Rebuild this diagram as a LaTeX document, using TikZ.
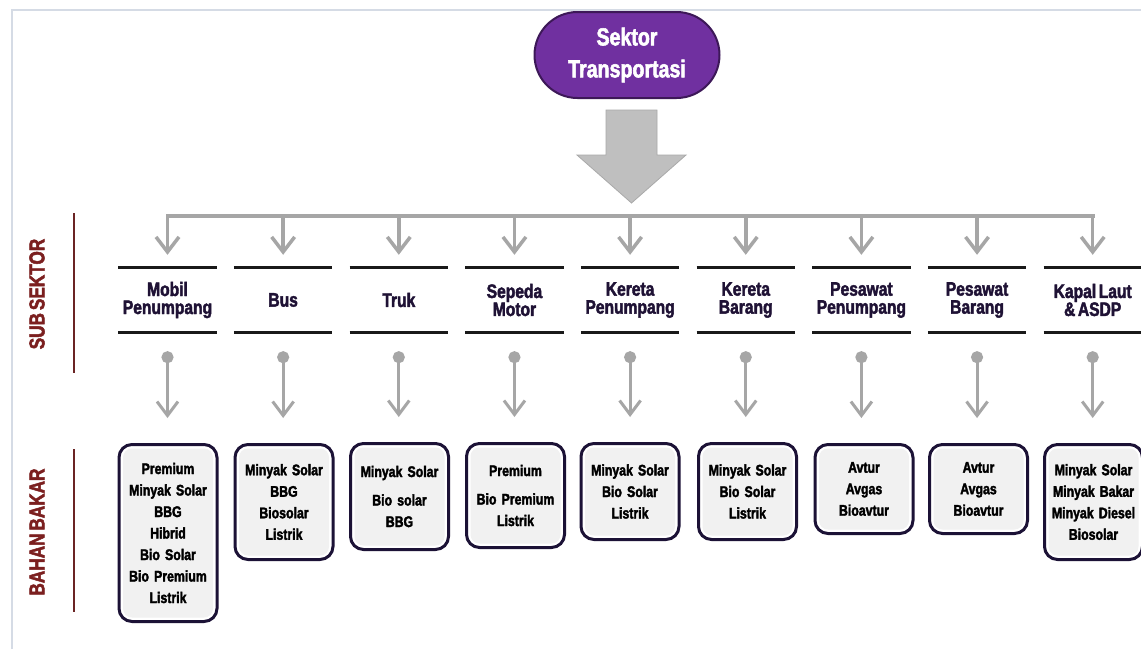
\documentclass[tikz,border=0pt]{standalone}
\usepackage{fontspec}
\setmainfont{Liberation Sans}[FakeStretch=0.8, WordSpace=0.6,
  BoldFeatures={FakeBold=2.2}]
\usetikzlibrary{arrows.meta,calc}

\definecolor{sektorfill}{HTML}{7030A0}
\definecolor{sektorline}{HTML}{3D1858}
\definecolor{arrowgray}{HTML}{A6A6A6}
\definecolor{bigarrowfill}{HTML}{BFBFBF}
\definecolor{bigarrowline}{HTML}{A9A9A9}
\definecolor{boxline}{HTML}{1C1236}
\definecolor{boxfill}{HTML}{F1F1F1}
\definecolor{headtext}{HTML}{1F1235}
\definecolor{sidetext}{HTML}{7B1F1F}
\definecolor{sideline}{HTML}{6B2424}
\definecolor{framecol}{HTML}{D5DBE5}

\tikzset{
  pill/.style={draw=sektorline, line width=2pt, fill=sektorfill,
    rounded corners=43pt, minimum width=185pt, minimum height=86pt,
    text=white, align=center, inner sep=0pt,
    font=\fontsize{24.5}{32}\selectfont\bfseries},
  bigarrow/.style={fill=bigarrowfill, draw=bigarrowline, line width=0.8pt},
  subhead/.style={minimum width=98pt, minimum height=64pt, inner sep=0pt,
    align=center, text=headtext,
    font=\fontsize{19.5}{18}\selectfont\bfseries},
  subrule/.style={draw=black!90, line width=3pt},
  fuelbox/.style={draw=boxline, line width=3pt, rounded corners=13pt,
    fill=white, minimum width=98pt, text width=94pt, align=center,
    inner sep=0pt, anchor=north, text=black,
    font=\fontsize{15.4}{21.5}\selectfont\bfseries,
    path picture={\fill[boxfill, rounded corners=9pt]
      ([shift={(4pt,-4pt)}]path picture bounding box.north west) rectangle
      ([shift={(-4pt,4pt)}]path picture bounding box.south east);}},
  trunkline/.style={draw=arrowgray, line width=4pt, line cap=rect},
  dropline/.style={draw=arrowgray, line width=3.5pt, shorten >=13pt,
    -{Straight Barb[length=15pt,width=23pt]}},
  linkline/.style={draw=arrowgray, line width=3pt, shorten <=19pt, shorten >=25pt,
    {Circle[length=12pt 0 0,width=12pt 0 0]}-{Straight Barb[length=14pt,width=21pt]}},
  sidelabel/.style={rotate=90, text=sidetext, inner sep=0pt,
    font=\fontsize{21.5}{24}\selectfont\bfseries},
  sideline/.style={draw=sideline, line width=2pt},
  frameline/.style={draw=framecol, line width=2.5pt}
}

\begin{document}
\begin{tikzpicture}[x=1pt, y=-1pt]
\useasboundingbox[fill=white] (0,0) rectangle (1141,649);

% outer frame (top and left edges)
\draw[frameline] (12,649) -- (12,10) -- (1141,10);

% top: sector and the big downward arrow
\node[pill] (sektor) at (627,55) {Sektor\\Transportasi};
\draw[bigarrow] (606,110) -- (657,110) -- (657,155) -- (686,155)
  -- (631.5,203) -- (577,155) -- (606,155) -- cycle;

% side labels
\node[sidelabel] (lblsub) at (37,294) {SUB SEKTOR};
\draw[sideline] (74,213) -- (74,373);
\node[sidelabel] (lblbahan) at (37,532) {BAHAN BAKAR};
\draw[sideline] (74,449) -- (74,612);

% sub-sector headers
\node[subhead] (s1) at (167.5,300) {Mobil\\Penumpang};
\node[subhead] (s2) at (283.15,300) {Bus};
\node[subhead] (s3) at (398.8,300) {Truk};
\node[subhead] (s4) at (514.45,300) {Sepeda\\Motor};
\node[subhead] (s5) at (630.1,300) {Kereta\\Penumpang};
\node[subhead] (s6) at (745.75,300) {Kereta\\Barang};
\node[subhead] (s7) at (861.4,300) {Pesawat\\Penumpang};
\node[subhead] (s8) at (977.05,300) {Pesawat\\Barang};
\node[subhead] (s9) at (1092.7,300) {Kapal Laut\\\& ASDP};
\foreach \n in {s1,s2,s3,s4,s5,s6,s7,s8,s9}
  \draw[subrule] (\n.north west) -- (\n.north east)
                 (\n.south west) -- (\n.south east);

% fuel boxes
\node[fuelbox, minimum height=177pt] (f1) at (168,443)
  {Premium\\Minyak Solar\\BBG\\Hibrid\\Bio Solar\\Bio Premium\\Listrik};
\node[fuelbox, minimum height=115pt] (f2) at (284,443)
  {Minyak Solar\\BBG\\Biosolar\\Listrik};
\node[fuelbox, minimum height=106pt] (f3) at (399.5,442)
  {Minyak Solar\\[7pt]Bio solar\\BBG};
\node[fuelbox, minimum height=104pt] (f4) at (515.5,442)
  {Premium\\[7pt]Bio Premium\\Listrik};
\node[fuelbox, minimum height=96pt] (f5) at (630,442)
  {Minyak Solar\\Bio Solar\\Listrik};
\node[fuelbox, minimum height=96pt] (f6) at (747.5,442)
  {Minyak Solar\\Bio Solar\\Listrik};
\node[fuelbox, minimum height=89pt] (f7) at (864,443)
  {Avtur\\Avgas\\Bioavtur};
\node[fuelbox, minimum height=89pt] (f8) at (978.5,443)
  {Avtur\\Avgas\\Bioavtur};
\node[fuelbox, minimum height=115pt] (f9) at (1093.5,443)
  {Minyak Solar\\Minyak Bakar\\Minyak Diesel\\Biosolar};

% distribution trunk and connectors
\coordinate (trunk) at (0,216);
\draw[trunkline] (s1.north |- trunk) -- (s9.north |- trunk);
\foreach \i in {1,...,9} {
  \draw[dropline] (s\i.north |- trunk) -- (s\i.north);
  \draw[linkline] (s\i.south) -- (s\i.south |- f\i.north);
}
\end{tikzpicture}
\end{document}
